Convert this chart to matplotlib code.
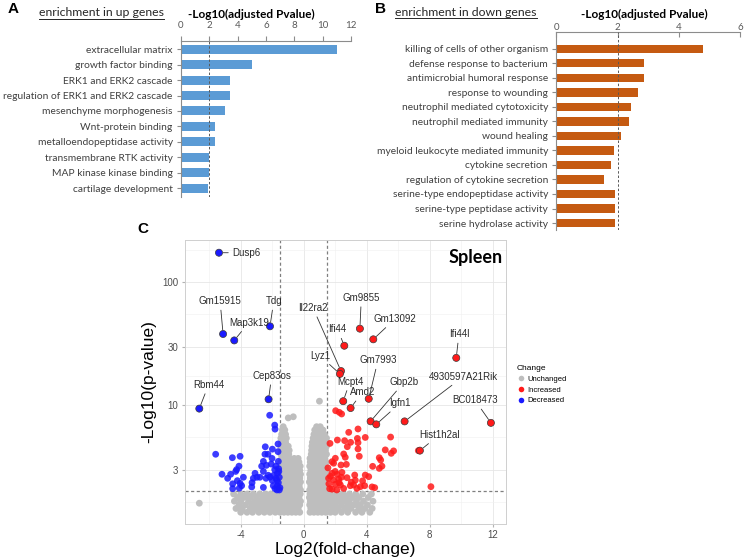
import numpy as np
import matplotlib
matplotlib.use("Agg")
import matplotlib.pyplot as plt
from matplotlib.lines import Line2D
from matplotlib.ticker import FixedLocator, NullFormatter

plt.rcParams['font.family'] = ['Liberation Sans', 'DejaVu Sans']

# ---------------- panel A: enrichment in up genes ----------------
up_terms = ['extracellular matrix', 'growth factor binding', 'ERK1 and ERK2 cascade',
            'regulation of ERK1 and ERK2 cascade', 'mesenchyme morphogenesis',
            'Wnt-protein binding', 'metalloendopeptidase activity',
            'transmembrane RTK activity', 'MAP kinase kinase binding', 'cartilage development']
up_vals = [10.99, 5.01, 3.48, 3.46, 3.1, 2.42, 2.42, 1.98, 1.98, 1.91]

# ---------------- panel B: enrichment in down genes ----------------
down_terms = ['killing of cells of other organism', 'defense response to bacterium',
              'antimicrobial humoral response', 'response to wounding',
              'neutrophil mediated cytotoxicity', 'neutrophil mediated immunity',
              'wound healing', 'myeloid leukocyte mediated immunity', 'cytokine secretion',
              'regulation of cytokine secretion', 'serine-type endopeptidase activity',
              'serine-type peptidase activity', 'serine hydrolase activity']
down_vals = [4.78, 2.85, 2.85, 2.65, 2.43, 2.38, 2.12, 1.87, 1.79, 1.54, 1.92, 1.92, 1.92]

# ---------------- panel C: volcano (Spleen) ----------------
# unchanged genes, one row of log2FC values per -log10(p) level
gray_lvls = [1.35, 1.45, 1.55, 1.66, 1.78, 1.9, 2.05, 2.2, 2.38, 2.56, 2.75, 2.95,
             3.2, 3.45, 3.7, 4.0, 4.3, 4.65, 5.0, 5.4, 5.8, 6.3, 6.7]
gray_fc_rows = [
    [-4.0, -3.6, -3.25, -2.85, -2.5, -2.15, -1.8, -1.5, -1.25, -1.0, -0.75, -0.5, -0.25,
     0.4, 0.65, 0.9, 1.15, 1.4, 1.7, 2.0, 2.4, 2.8, 3.3, 3.7, 4.2],
    [-4.3, -3.9, -3.4, -3.05, -2.7, -2.35, -2.0, -1.65, -1.35, -1.1, -0.85, -0.6, -0.35,
     0.45, 0.7, 0.95, 1.2, 1.45, 1.85, 2.2, 2.6, 3.0, 3.5, 3.9, 4.35],
    [-4.1, -3.7, -3.3, -2.9, -2.55, -2.2, -1.85, -1.5, -1.25, -1.0, -0.75, -0.5, -0.25,
     0.38, 0.6, 0.85, 1.1, 1.35, 1.6, 2.0, 2.4, 2.8, 3.2, 3.6, 4.05],
    [-4.4, -4.0, -3.5, -3.1, -2.75, -2.4, -2.05, -1.7, -1.4, -1.15, -0.9, -0.65, -0.4, -0.2,
     0.42, 0.68, 0.92, 1.18, 1.42, 1.8, 2.15, 2.5, 2.9, 3.35, 3.8, 4.4],
    [-4.2, -3.8, -3.4, -3.0, -2.6, -2.25, -1.9, -1.55, -1.3, -1.05, -0.8, -0.55, -0.3,
     0.36, 0.55, 0.8, 1.05, 1.3, 1.55, 1.95, 2.3, 2.7, 3.1, 3.5, 4.1],
    [-4.45, -4.0, -3.6, -3.2, -2.8, -2.45, -2.1, -1.75, -1.45, -1.2, -0.95, -0.7, -0.45, -0.22,
     0.4, 0.65, 0.9, 1.15, 1.4, 1.7, 2.1, 2.5, 2.9, 3.3, 3.75, 4.3],
    [-1.4, -1.15, -0.9, -0.65, -0.4, -0.2, 0.38, 0.6, 0.85, 1.1, 1.35],
    [-1.5, -1.25, -1.0, -0.75, -0.5, -0.28, 0.45, 0.7, 0.95, 1.2, 1.45],
    [-1.4, -1.15, -0.9, -0.65, -0.4, -0.2, 0.36, 0.58, 0.82, 1.08, 1.32],
    [-1.45, -1.2, -0.95, -0.7, -0.45, -0.25, 0.42, 0.66, 0.9, 1.15, 1.42],
    [-1.38, -1.1, -0.85, -0.6, -0.38, -0.2, 0.38, 0.6, 0.85, 1.1, 1.35],
    [-1.45, -1.2, -0.95, -0.7, -0.48, -0.25, 0.45, 0.7, 0.95, 1.2, 1.45],
    [-1.4, -1.15, -0.9, -0.65, -0.4, -0.22, 0.38, 0.62, 0.88, 1.12, 1.38],
    [-1.45, -1.2, -0.95, -0.7, -0.45, -0.3, 0.42, 0.68, 0.92, 1.18, 1.42],
    [-1.4, -1.12, -0.88, -0.6, -0.35, 0.4, 0.6, 0.85, 1.1, 1.35],
    [-1.45, -1.2, -0.95, 0.48, 0.7, 0.95, 1.2, 1.45],
    [-1.4, -1.15, -0.92, 0.5, 0.62, 0.88, 1.12, 1.38],
    [-1.45, -1.2, -0.98, 0.52, 0.7, 0.95, 1.2, 1.45],
    [-1.4, -1.15, 0.55, 0.72, 0.88, 1.12, 1.4],
    [-1.45, -1.1, 0.6, 0.72, 0.95, 1.2, 1.45],
    [-1.4, -1.15, 0.65, 0.85, 1.08, 1.32],
    [-1.35, -1.2, 0.7, 0.92, 1.22],
    [-1.3, 0.82, 1.05],
]
gray_extra_fc = [-0.98, -0.66, 1.0, -6.63]
gray_extra_p = [7.9, 8.07, 10.8, 1.6]

blue_fc = [-2.16, -1.84, -1.82, -1.63, -2.44, -1.99, -2.46, -2.27, -1.63, -5.59,
           -4.53, -4.04, -2.01, -1.61, -2.56, -2.67, -2.37, -2.06, -4.11, -4.26,
           -5.19, -4.83, -4.64, -4.32, -3.83, -4.51, -4.21, -4.04, -3.94, -3.28,
           -3.09, -2.97, -3.20, -2.78, -2.56, -2.39, -2.25, -2.14, -1.84, -1.76,
           -1.67, -1.59, -1.76, -1.61, -1.93, -1.67, -1.51, -1.82, -2.56, -3.30,
           -4.09, -4.51, -1.55, -1.70, -1.90, -1.58, -2.00, -1.55, -1.70]
blue_p = [8.3, 6.9, 6.4, 4.85, 4.6, 4.4, 4.0, 4.0, 4.2, 4.0,
          3.75, 3.85, 3.7, 3.5, 3.5, 3.2, 3.25, 3.33, 3.2, 3.0,
          2.75, 2.55, 2.75, 2.9, 2.6, 2.3, 2.44, 2.32, 2.22, 2.35,
          2.8, 2.6, 2.55, 2.6, 2.9, 2.55, 2.7, 2.61, 3.0, 3.2,
          2.8, 3.05, 2.55, 2.35, 2.22, 2.22, 2.14, 2.1, 2.15, 2.17,
          2.12, 2.1, 2.6, 2.45, 2.7, 2.9, 2.45, 2.05, 2.05]

red_fc = [2.03, 2.26, 2.41, 3.45, 2.86, 5.52, 2.14, 2.60, 2.98, 3.41,
          3.45, 3.91, 1.67, 2.77, 3.45, 5.18, 5.71, 5.56, 2.54, 2.64,
          3.53, 2.01, 1.80, 1.90, 4.80, 4.89, 2.37, 2.71, 4.38, 4.97,
          4.80, 1.54, 1.80, 2.12, 2.43, 3.24, 3.91, 4.13, 1.58, 1.90,
          2.22, 2.75, 3.02, 3.28, 3.74, 2.01, 2.33, 2.96, 3.17, 3.60,
          3.87, 4.34, 4.51, 1.80, 2.54, 3.38, 7.28, 8.08, 1.60, 1.70,
          2.00, 2.25, 1.65, 2.40, 2.10]
red_p = [9.04, 8.77, 8.5, 6.42, 6.03, 5.52, 5.22, 5.16, 5.0, 5.38,
         4.97, 5.48, 4.9, 4.61, 4.42, 4.34, 4.26, 4.07, 4.02, 3.78,
         3.85, 3.71, 3.48, 3.38, 3.75, 3.59, 3.27, 3.31, 3.19, 3.2,
         3.07, 3.1, 2.8, 2.75, 2.85, 2.71, 2.71, 2.63, 2.55, 2.47,
         2.51, 2.58, 2.37, 2.46, 2.43, 2.28, 2.25, 2.22, 2.25, 2.18,
         2.22, 2.17, 2.14, 2.08, 2.11, 2.11, 4.28, 2.18, 2.3, 2.65,
         2.9, 2.35, 2.1, 2.6, 2.05]

lab_gene = ['Dusp6', 'Gm15915', 'Map3k19', 'Tdg', 'Cep83os', 'Rbm44', 'Il22ra2', 'Lyz1',
            'Ifi44', 'Gm9855', 'Gm13092', 'Ifi44l', 'Gm7993', 'Mcpt4', 'Amd2', 'Gbp2b',
            'Igfn1', '4930597A21Rik', 'BC018473', 'Hist1h2al']
lab_fc = [-5.38, -5.12, -4.41, -2.14, -2.23, -6.63, 2.37, 2.30, 2.58, 3.57,
          4.42, 9.69, 4.13, 2.51, 2.98, 4.25, 4.61, 6.41, 11.89, 7.38]
lab_p = [174, 38, 33.7, 43.9, 11.2, 9.4, 19.0, 18.0, 30.5, 42,
         34.4, 24.3, 11.3, 10.8, 9.5, 7.41, 7.0, 7.4, 7.2, 4.28]
lab_tx = [-3.63, -5.31, -3.49, -1.9, -2.03, -6.04, 0.59, 1.03, 2.15, 3.66,
          5.8, 9.86, 4.72, 2.94, 3.73, 6.37, 6.11, 10.13, 10.88, 8.6]
lab_ty = [174, 70.5, 47, 70.5, 17.4, 14.7, 62, 25.3, 41.5, 75,
          50.4, 38, 23.3, 15.6, 12.8, 15.4, 10.4, 17.1, 11.0, 5.74]

RED, BLUE, GRAY = '#FF1A1A', '#1A1AFF', '#BEBEBE'

W, H = 744, 560
fig = plt.figure(figsize=(W / 100, H / 100), dpi=100)


def px_axes(x0, y0, x1, y1):
    return fig.add_axes([x0 / W, 1 - y1 / H, (x1 - x0) / W, (y1 - y0) / H])


def enrichment_panel(ax, terms, vals, color, xmax, pad_top, pad_bot, tick_dir, tick_pad):
    pos = np.arange(len(terms))
    ax.barh(pos, vals, height=0.58, color=color, edgecolor='none', zorder=2)
    ax.axvline(2, color='#595959', lw=0.7, ls=(0, (2.5, 2)), zorder=3)
    ax.set_xlim(0, xmax)
    ax.set_ylim(len(terms) - 1 + pad_bot, -pad_top)
    ax.xaxis.tick_top()
    ax.set_xticks(range(0, xmax + 1, 2))
    ax.set_yticks(pos, terms)
    for s in ('right', 'bottom'):
        ax.spines[s].set_visible(False)
    for s in ('top', 'left'):
        ax.spines[s].set_color('#8C8C8C')
        ax.spines[s].set_linewidth(0.8)
    ax.tick_params(axis='x', colors='#8C8C8C', labelcolor='#595959', labelsize=7,
                   length=3.5, pad=tick_pad, direction=tick_dir)
    ax.tick_params(axis='y', colors='#8C8C8C', labelcolor='#404040', labelsize=7.4,
                   length=3, pad=3)
    for lbl in ax.get_xticklabels() + ax.get_yticklabels():
        lbl.set_fontfamily('Lato')


axA = px_axes(181, 40.7, 351, 196.7)
enrichment_panel(axA, up_terms, up_vals, '#5B9BD5', 12, 0.55, 0.55, 'out', 4)
axB = px_axes(556.3, 32.3, 740.3, 230)
enrichment_panel(axB, down_terms, down_vals, '#C55A11', 6, 1.13, 0.48, 'in', 0.5)

titles = []
titles.append(fig.text(39 / W, 1 - 12.5 / H, 'enrichment in up genes', fontsize=8.8,
                       fontfamily='Lato', color='#262626', va='center'))
titles.append(fig.text(395 / W, 1 - 12.3 / H, 'enrichment in down genes', fontsize=8.8,
                       fontfamily='Lato', color='#262626', va='center'))
fig.text(251 / W, 1 - 14 / H, '-Log10(adjusted Pvalue)', fontsize=8.5, fontweight='bold',
         fontfamily='Lato', ha='center', va='center')
fig.text(644.5 / W, 1 - 14 / H, '-Log10(adjusted Pvalue)', fontsize=8.5, fontweight='bold',
         fontfamily='Lato', ha='center', va='center')
for x, y, s in [(8, 9, 'A'), (375, 9, 'B'), (137, 229, 'C')]:
    fig.text(x / W, 1 - y / H, s, fontsize=11, fontweight='bold', va='center')

# ---------------- volcano ----------------
ax = px_axes(184.5, 240, 505.7, 524)
ax.set_yscale('log')

gx = [x for row in gray_fc_rows for x in row] + gray_extra_fc
gy = [lv for lv, row in zip(gray_lvls, gray_fc_rows) for _ in row] + gray_extra_p
ax.scatter(gx, gy, s=24, color=GRAY, edgecolors='none', zorder=2)
ax.scatter(red_fc, red_p, s=24, color=RED, alpha=0.85, edgecolors='none', zorder=3)
ax.scatter(blue_fc, blue_p, s=24, color=BLUE, alpha=0.85, edgecolors='none', zorder=3)

lab_col = [BLUE if fc < 0 else RED for fc in lab_fc]
ax.scatter(lab_fc, lab_p, s=26, color=lab_col, edgecolors='#3A3A3A', linewidths=0.5,
           zorder=4)
for g, fc, p, tx, ty in zip(lab_gene, lab_fc, lab_p, lab_tx, lab_ty):
    ax.annotate(g, xy=(fc, p), xytext=(tx, ty), fontsize=7, color='#2B2B2B',
                ha='center', va='center', zorder=5,
                arrowprops=dict(arrowstyle='-', color='#333333', lw=0.6,
                                shrinkA=1, shrinkB=3))

ax.axhline(2, color='#7F7F7F', lw=0.9, ls=(0, (2.5, 2)), zorder=1.5)
ax.axvline(-1.5, color='#7F7F7F', lw=0.9, ls=(0, (2.5, 2)), zorder=1.5)
ax.axvline(1.5, color='#7F7F7F', lw=0.9, ls=(0, (2.5, 2)), zorder=1.5)

ax.set_xlim(-7.57, 12.83)
ax.set_ylim(10 ** 0.035, 10 ** 2.344)
ax.set_xticks([-4, 0, 4, 8, 12], ['-4', '0', '4', '8', '12'])
ax.set_xticks([-6, -2, 2, 6, 10], minor=True)
ax.set_yticks([3, 10, 30, 100], ['3', '10', '30', '100'])
ax.yaxis.set_minor_locator(FixedLocator([1.64, 5.48, 17.3, 54.8, 183]))
ax.yaxis.set_minor_formatter(NullFormatter())
ax.grid(which='major', color='#E6E6E6', lw=0.6)
ax.grid(which='minor', color='#F0F0F0', lw=0.4)
ax.set_axisbelow(True)
for s in ax.spines.values():
    s.set_color('#CFCFCF')
    s.set_linewidth(0.7)
ax.tick_params(which='major', colors='#B3B3B3', labelcolor='#4D4D4D', labelsize=7,
               length=2.5, pad=2)
ax.tick_params(which='minor', length=0)
ax.set_xlabel('Log2(fold-change)', fontsize=12.5, labelpad=1)
ax.set_ylabel('-Log10(p-value)', fontsize=12.5, labelpad=4)
ax.text(0.992, 0.94, 'Spleen', transform=ax.transAxes, ha='right', va='center',
        fontsize=13, fontweight='bold', fontfamily='Lato')

handles = [Line2D([], [], ls='', marker='o', markersize=4, color=c, markeredgewidth=0)
           for c in (GRAY, RED, BLUE)]
fig.legend(handles, ['Unchanged', 'Increased', 'Decreased'], title='Change',
           loc='upper left', bbox_to_anchor=(514 / W, 1 - 362 / H), frameon=False,
           fontsize=5.5, title_fontsize=6, handletextpad=0.4, labelspacing=0.45,
           handlelength=1.0, borderaxespad=0, alignment='left')

# underline the two panel titles
fig.canvas.draw()
rend = fig.canvas.get_renderer()
for t in titles:
    bb = t.get_window_extent(rend)
    fig.add_artist(Line2D([bb.x0 / W, bb.x1 / W], [(bb.y0 - 0.5) / H] * 2,
                          color='#262626', lw=0.7))

fig.savefig('out.png', dpi=100)
